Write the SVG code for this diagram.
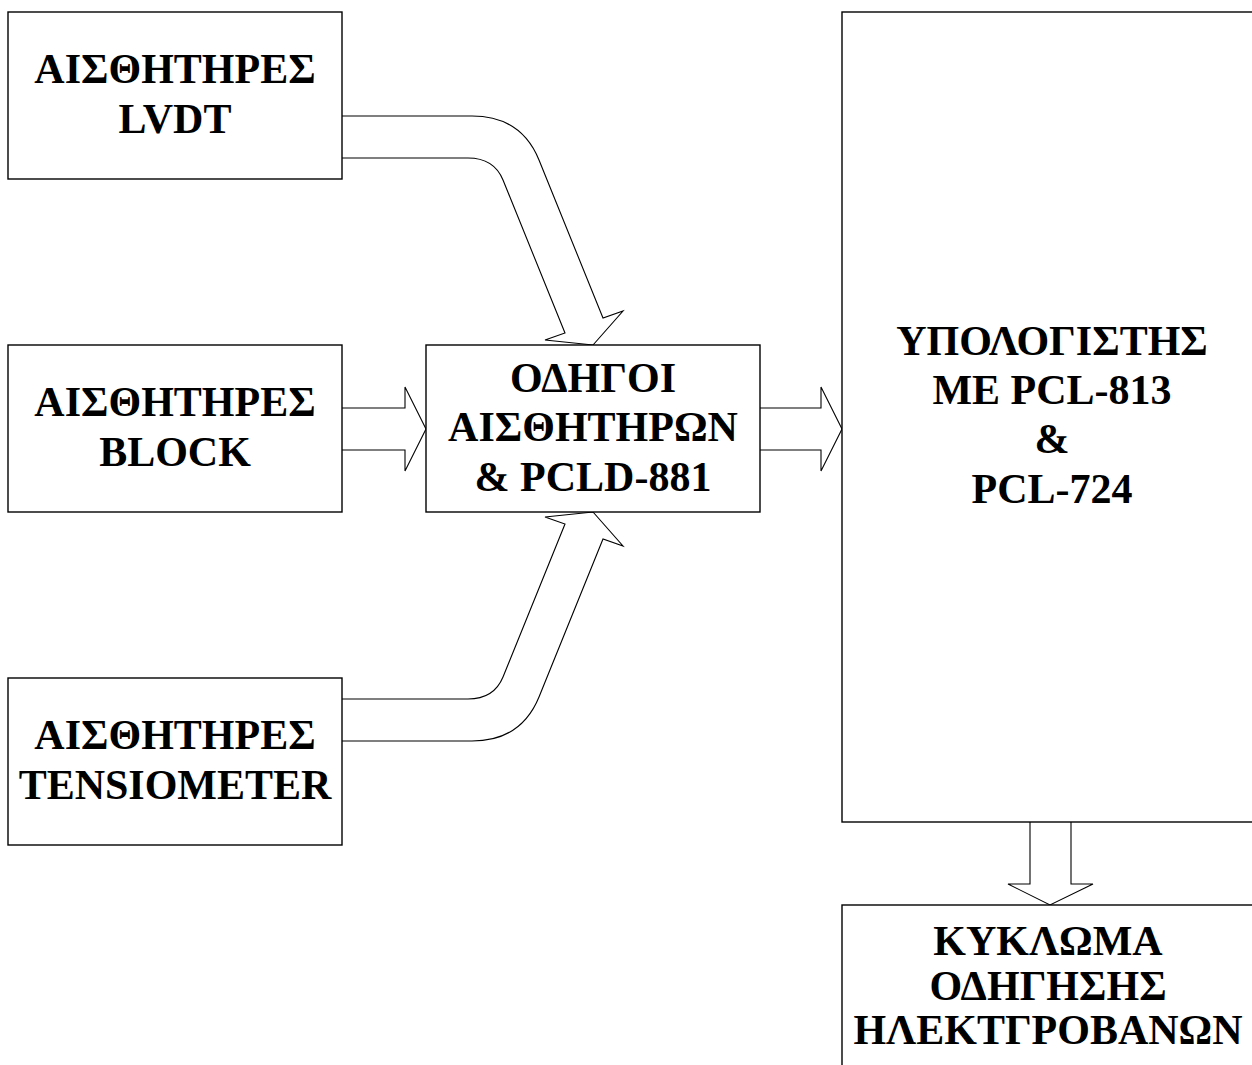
<svg xmlns="http://www.w3.org/2000/svg" width="1252" height="1065" viewBox="0 0 1252 1065">
<style>
.box{fill:#fff;stroke:#000;stroke-width:1.4}
.arr{fill:#fff;stroke:#000;stroke-width:1.1;stroke-linejoin:miter}
.t{font-family:"Liberation Serif","Times New Roman",serif;font-weight:bold;font-size:42px;text-anchor:middle;fill:#000}
</style>
<rect width="1252" height="1065" fill="#fff"/>
<g id="connectors">
<path class="arr" d="M342,116 H472 Q521,116 539,160 L603,318 L623,311 L593,345 L545,340 L565,333 L503,180 Q494,158 468,158 H342"/>
<path class="arr" transform="translate(0,857) scale(1,-1)" d="M342,116 H472 Q521,116 539,160 L603,318 L623,311 L593,345 L545,340 L565,333 L503,180 Q494,158 468,158 H342"/>
<path class="arr" d="M342,408 H405 V387 L426,429 L405,471 V450 H342"/>
<path class="arr" d="M760,408 H821 V387 L842,429 L821,471 V450 H760"/>
<path class="arr" d="M1030,822 V884 H1008 L1050,905 L1093,884 H1071 V822"/>
</g>
<g id="lvdt">
<rect class="box" x="8" y="12" width="334" height="167"/>
<text class="t" x="175" y="83">ΑΙΣΘΗΤΗΡΕΣ</text>
<text class="t" x="175" y="133">LVDT</text>
</g>
<g id="block">
<rect class="box" x="8" y="345" width="334" height="167"/>
<text class="t" x="175" y="416">ΑΙΣΘΗΤΗΡΕΣ</text>
<text class="t" x="175" y="466">BLOCK</text>
</g>
<g id="tensiometer">
<rect class="box" x="8" y="678" width="334" height="167"/>
<text class="t" x="175" y="749">ΑΙΣΘΗΤΗΡΕΣ</text>
<text class="t" x="175" y="799">TENSIOMETER</text>
</g>
<g id="drivers">
<rect class="box" x="426" y="345" width="334" height="167"/>
<text class="t" x="593" y="392">ΟΔΗΓΟΙ</text>
<text class="t" x="593" y="441">ΑΙΣΘΗΤΗΡΩΝ</text>
<text class="t" x="593" y="491">&amp; PCLD-881</text>
</g>
<g id="computer">
<rect class="box" x="842" y="12" width="420" height="810"/>
<text class="t" x="1052" y="355">ΥΠΟΛΟΓΙΣΤΗΣ</text>
<text class="t" x="1052" y="404">ΜΕ PCL-813</text>
<text class="t" x="1052" y="453">&amp;</text>
<text class="t" x="1052" y="503">PCL-724</text>
</g>
<g id="circuit">
<rect class="box" x="842" y="905" width="420" height="180"/>
<text class="t" x="1048" y="955">ΚΥΚΛΩΜΑ</text>
<text class="t" x="1048" y="1000">ΟΔΗΓΗΣΗΣ</text>
<text class="t" x="1048" y="1044">ΗΛΕΚΤΓΡΟΒΑΝΩΝ</text>
</g>
</svg>
